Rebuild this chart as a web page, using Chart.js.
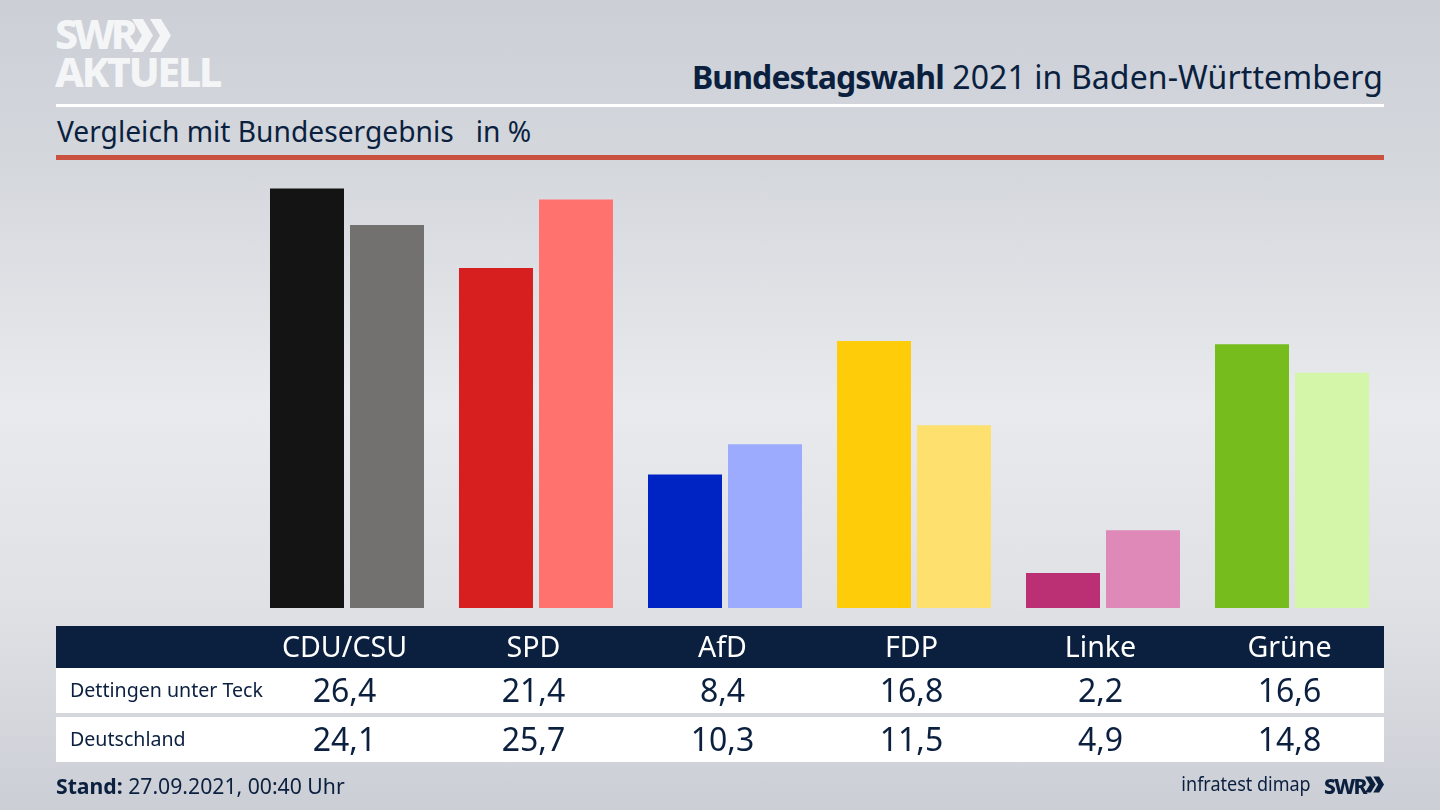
<!DOCTYPE html>
<html lang="de">
<head>
<meta charset="utf-8">
<title>Bundestagswahl 2021 in Baden-Württemberg</title>
<script src="https://cdn.jsdelivr.net/npm/chart.js@4"></script>
<style>
  html, body { margin: 0; padding: 0; }
  body {
    width: 1440px; height: 810px; position: relative; overflow: hidden;
    font-family: "Noto Sans", sans-serif; color: #0b1f3f;
    background: linear-gradient(180deg, #cccfd6 0%, #d4d7dc 20%, #e8eaed 50%, #dfe1e5 75%, #cbced5 100%);
  }
  canvas { position: absolute; left: 0; top: 0; }
  svg { position: absolute; }
  .t { position: absolute; white-space: nowrap; line-height: 1; }
  .c { transform: translateX(-50%); }
  .box { position: absolute; left: 56px; width: 1328px; }
</style>
</head>
<body>
<div class="t" style="left:55px;top:5px;font:800 41px 'Noto Sans';color:#f4f5f6;letter-spacing:-4.2px">SWR</div>
<svg style="left:132px;top:19px" width="39" height="33" viewBox="0 0 39 33">
  <path d="M0 0h11l10 16.5L11 33H0l10-16.5z M18 0h11l10 16.5L29 33H18l10-16.5z" fill="#f4f5f6"/>
</svg>
<div class="t" style="left:55px;top:43px;font:800 41px 'Noto Sans';color:#f4f5f6;letter-spacing:-2.3px">AKTUELL</div>
<div class="t" id="title" style="right:57px;top:61px;font-size:32px;letter-spacing:.1px"><b style="letter-spacing:-.9px">Bundestagswahl</b> 2021 in Baden-Württemberg</div>
<div class="box" style="top:104px;height:3px;background:#fff"></div>
<div class="t" style="left:57px;top:117px;font-size:28.2px">Vergleich mit Bundesergebnis &nbsp; in %</div>
<div class="box" style="top:155px;height:5px;background:#c9513f"></div>

<canvas id="myChart" width="1440" height="810"></canvas>

<div class="box" style="top:626px;height:42px;background:#0b1f3f"></div>
<div class="box" style="top:668px;height:45px;background:#fff"></div>
<div class="box" style="top:717px;height:45px;background:#fff"></div>
<div id="table"></div>

<div class="t" style="left:56px;top:775px;font-size:21.2px"><b>Stand:</b> 27.09.2021, 00:40 Uhr</div>
<div class="t" style="right:129px;top:774px;font-size:20px;transform:scaleX(.9);transform-origin:right">infratest dimap</div>
<div class="t" style="left:1324px;top:772px;font:800 21px 'Noto Sans';letter-spacing:-1.6px">SWR</div>
<svg style="left:1365px;top:776px" width="19" height="17" viewBox="0 0 39 33">
  <path d="M0 0h12l10 16.5L12 33H0l10-16.5z M17 0h12l10 16.5L29 33H17l10-16.5z" fill="#0b1f3f"/>
</svg>

<script>
const parteien = ['CDU/CSU', 'SPD', 'AfD', 'FDP', 'Linke', 'Grüne'];
const ortName = 'Dettingen unter Teck';
const landName = 'Deutschland';
const ortWerte = [26.4, 21.4, 8.4, 16.8, 2.2, 16.6];
const landWerte = [24.1, 25.7, 10.3, 11.5, 4.9, 14.8];
const ortFarben = ['#141414', '#d71f1f', '#0023c4', '#ffcc0a', '#bb3075', '#76bc1c'];
const landFarben = ['#72716f', '#ff726d', '#9dabff', '#fee06e', '#de89b8', '#d4f6a9'];

const ctx = document.getElementById('myChart');

new Chart(ctx, {
    type: 'bar',
    data: {
        labels: parteien,
        datasets: [
            { label: ortName, data: ortWerte, backgroundColor: ortFarben, categoryPercentage: 0.8466, barPercentage: 0.925 },
            { label: landName, data: landWerte, backgroundColor: landFarben, categoryPercentage: 0.8466, barPercentage: 0.925 }
        ]
    },
    options: {
        responsive: false,
        animation: false,
        layout: { padding: { left: 252.5, right: 53.5, top: 163, bottom: 202 } },
        plugins: { legend: { display: false }, tooltip: { enabled: false } },
        scales: {
            x: { display: false },
            y: { display: false, min: 0, max: 28 }
        }
    }
});

// Tabelle unter den Balken
const table = document.getElementById('table');

function addText(text, x, y, size, color, center) {
    const el = document.createElement('div');
    el.className = center ? 't c' : 't';
    el.textContent = text;
    el.style.left = x + 'px';
    el.style.top = y + 'px';
    el.style.fontSize = size + 'px';
    el.style.color = color;
    table.appendChild(el);
}

function komma(wert) {
    return wert.toFixed(1).replace('.', ',');
}

addText(ortName, 70, 680, 19.6, '#0b1f3f', false);
addText(landName, 70, 729, 19.6, '#0b1f3f', false);

for (let i = 0; i < parteien.length; i++) {
    const x = 344.5 + i * 189;
    addText(parteien[i], x, 632, 28.6, '#ffffff', true);
    addText(komma(ortWerte[i]), x, 674, 32, '#0b1f3f', true);
    addText(komma(landWerte[i]), x, 723, 32, '#0b1f3f', true);
}
</script>
</body>
</html>
